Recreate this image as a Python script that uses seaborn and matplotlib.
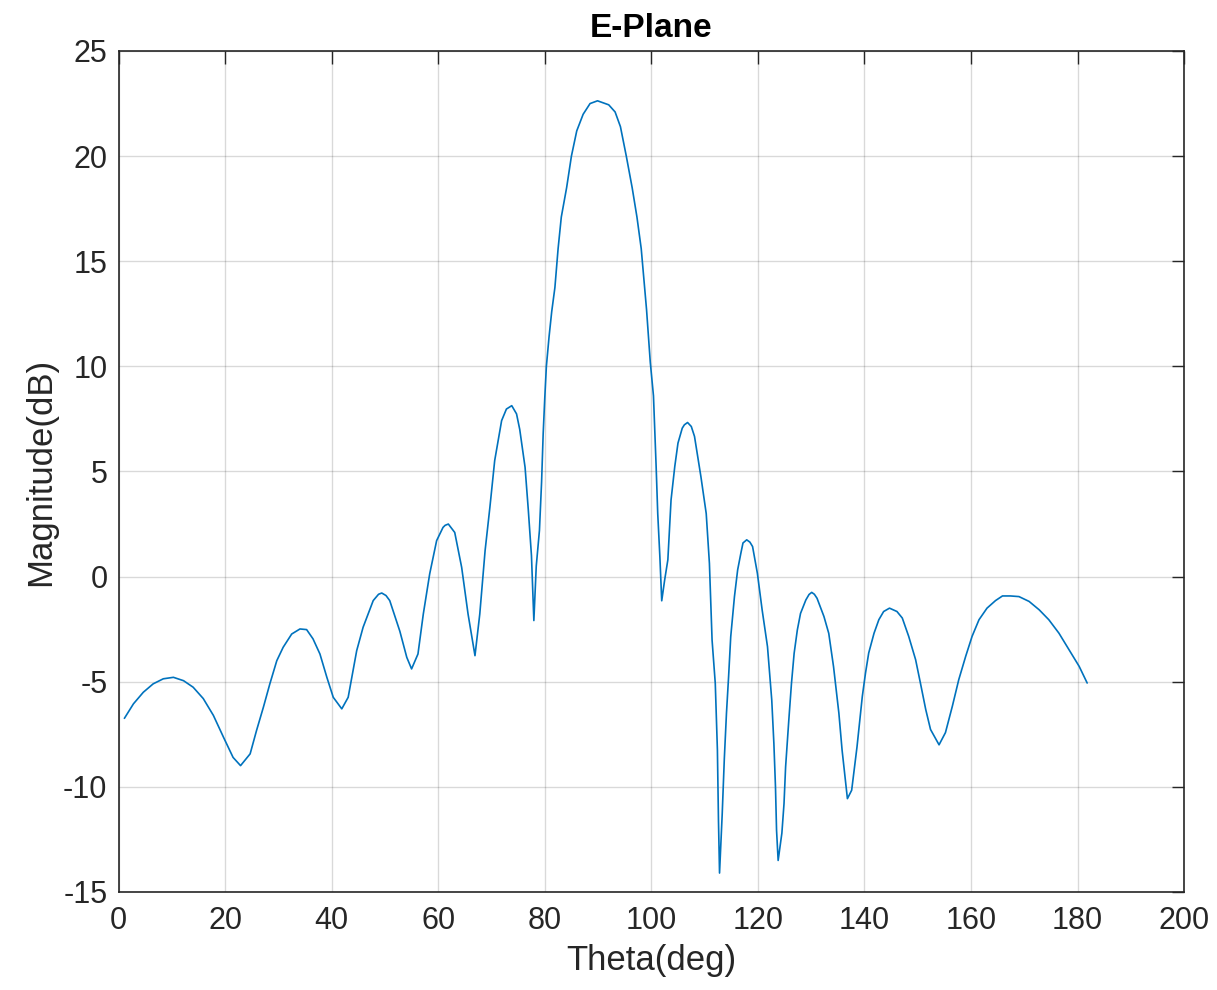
import numpy as np
import pandas as pd
import matplotlib
matplotlib.use("Agg")
import matplotlib.pyplot as plt
import seaborn as sns

# Theta (deg) and magnitude (dB)
theta = [1.1, 2.8, 4.65, 6.5, 8.4, 10.3, 12.2, 14.0, 15.9, 17.8, 19.7, 21.5, 22.9,
         24.7, 25.9, 27.2, 28.4, 29.7, 30.9, 32.5, 34.05, 35.3, 36.5, 37.8, 39.1,
         40.3, 41.9, 43.1, 44.7, 45.9, 47.8, 48.8, 49.4, 50.2, 50.9, 52.8, 54.1,
         55.0, 56.2, 57.2, 58.4, 59.7, 60.9, 61.3, 61.9, 62.5, 63.1, 64.4, 65.6,
         66.9, 67.8, 68.8, 69.7, 70.6, 71.9, 72.8, 73.8, 74.7, 75.3, 76.3, 76.9,
         77.5, 77.95, 78.4, 79.0, 79.4, 79.7, 80.0, 80.3, 80.8, 81.3, 81.9, 82.5,
         83.1, 84.1, 85.0, 86.0, 87.2, 88.5, 89.9, 92.0, 93.2, 94.2, 95.3, 96.4,
         97.3, 98.1, 99.1, 99.8, 100.4, 100.9, 101.2, 101.6, 101.95, 102.5, 103.1,
         103.7, 104.4, 105.0, 105.8, 106.2, 106.8, 107.5, 108.1, 109.3, 110.3,
         110.9, 111.4, 112.0, 112.4, 112.6, 112.8, 113.3, 113.7, 114.1, 114.5,
         114.9, 115.6, 116.2, 116.8, 117.2, 117.9, 118.5, 119.0, 119.9, 120.8,
         121.8, 122.6, 123.0, 123.3, 123.5, 123.8, 124.5, 124.9, 125.2, 125.8,
         126.3, 126.8, 127.4, 128.0, 129.0, 129.6, 130.1, 130.6, 131.1, 132.4,
         133.3, 134.2, 135.2, 135.8, 136.8, 137.6, 138.6, 139.6, 140.2, 140.8,
         141.8, 142.7, 143.6, 144.7, 146.1, 147.1, 148.3, 149.6, 150.5, 151.5,
         152.4, 154.0, 155.2, 156.5, 157.7, 159.0, 160.2, 161.5, 163.0, 164.6,
         165.9, 167.4, 169.0, 170.9, 172.8, 174.6, 176.5, 178.4, 180.3, 181.8]
magnitude = [-6.74, -6.05, -5.5, -5.1, -4.86, -4.79, -4.95, -5.26, -5.8, -6.6, -7.64,
             -8.6, -8.99, -8.43, -7.32, -6.2, -5.1, -4.0, -3.36, -2.73, -2.49, -2.52,
             -2.96, -3.68, -4.79, -5.74, -6.29, -5.74, -3.52, -2.41, -1.14, -0.84,
             -0.78, -0.9, -1.14, -2.6, -3.84, -4.39, -3.68, -1.78, 0.13, 1.71, 2.34,
             2.44, 2.5, 2.3, 2.1, 0.44, -1.78, -3.76, -1.78, 1.24, 3.3, 5.52, 7.42,
             7.97, 8.13, 7.74, 7.0, 5.2, 3.2, 1.0, -2.09, 0.5, 2.2, 4.5, 6.8, 8.5,
             10.0, 11.4, 12.6, 13.75, 15.6, 17.1, 18.5, 20.0, 21.2, 21.99, 22.5,
             22.63, 22.44, 22.1, 21.4, 20.0, 18.5, 17.1, 15.6, 12.7, 10.2, 8.6, 5.24,
             3.0, 0.95, -1.15, -0.16, 0.8, 3.65, 5.24, 6.35, 7.06, 7.22, 7.33, 7.14,
             6.67, 4.76, 3.0, 0.63, -3.02, -5.08, -8.25, -11.6, -14.1, -11.3, -8.65,
             -6.5, -4.76, -2.86, -0.95, 0.32, 1.11, 1.6, 1.75, 1.64, 1.43, 0.16,
             -1.59, -3.33, -5.87, -7.94, -10.0, -12.06, -13.5, -12.2, -10.8, -9.05,
             -6.83, -5.08, -3.65, -2.54, -1.75, -1.11, -0.85, -0.75, -0.84, -1.03,
             -1.9, -2.7, -4.29, -6.5, -8.25, -10.56, -10.16, -8.1, -5.69, -4.58,
             -3.63, -2.69, -2.05, -1.66, -1.5, -1.66, -1.97, -2.84, -3.95, -5.06,
             -6.32, -7.27, -8.0, -7.42, -6.16, -4.9, -3.79, -2.84, -2.05, -1.5, -1.14,
             -0.92, -0.92, -0.95, -1.18, -1.58, -2.05, -2.69, -3.48, -4.27, -5.06]

x_ticks = list(range(0, 201, 20))
y_ticks = list(range(-15, 26, 5))

df = pd.DataFrame({"Theta": theta, "Magnitude": magnitude})

sns.set_style("white")
plt.rcParams["font.family"] = ["Liberation Sans", "DejaVu Sans"]
plt.rcParams["axes.unicode_minus"] = False

ink = "#262626"
fig = plt.figure(figsize=(12.17, 9.9), dpi=100)
ax = fig.add_axes([0.0974, 0.099, 0.8756, 0.8495])

sns.lineplot(data=df, x="Theta", y="Magnitude", sort=False, color="#0072BD",
             linewidth=1.2, ax=ax)

ax.set_xlim(0, 200)
ax.set_ylim(-15, 25)
ax.set_xticks(x_ticks)
ax.set_yticks(y_ticks)
ax.grid(True, color="#000000", alpha=0.15, linewidth=1.0)
ax.set_axisbelow(True)

ax.tick_params(direction="in", length=9, width=1.0, colors=ink, labelsize=22,
               top=True, right=True, labeltop=False, labelright=False)
ax.tick_params(axis="x", pad=10)
ax.tick_params(axis="y", pad=8)
for s in ax.spines.values():
    s.set_color(ink)
    s.set_linewidth(1.2)
    s.set_visible(True)

ax.set_xlabel("Theta(deg)", fontsize=25, color=ink, labelpad=6)
ax.set_ylabel("Magnitude(dB)", fontsize=25, color=ink, labelpad=4)
ax.set_title("E-Plane", fontsize=24, fontweight="bold", color="black", pad=10)

fig.savefig("out.png", dpi=100)
